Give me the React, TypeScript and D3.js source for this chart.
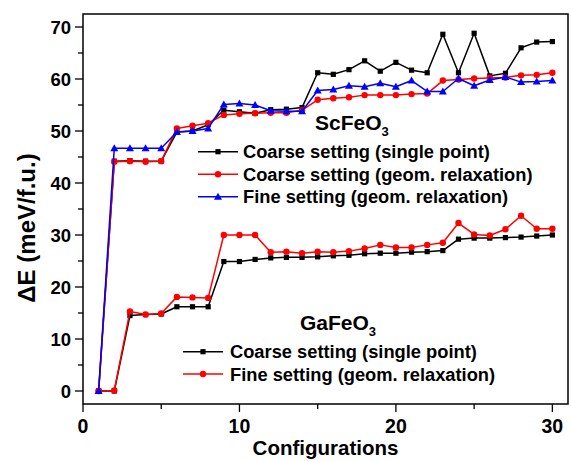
import React from "react";
import * as d3 from "d3";

// Configuration index 1..30
const configs: number[] = d3.range(1, 31);

// ScFeO3 energies (meV/f.u.)
const scCoarseSingle: number[] = [
  0, 44.2, 44.3, 44.2, 44.2, 49.8, 50.0, 51.2, 54.0, 53.7,
  53.4, 54.1, 54.2, 54.5, 61.2, 60.9, 61.8, 63.5, 61.5, 63.2,
  61.7, 61.2, 68.6, 61.2, 68.8, 60.6, 61.1, 66.0, 67.1, 67.2,
];
const scCoarseRelax: number[] = [
  0, 44.1, 44.2, 44.1, 44.2, 50.5, 51.0, 51.5, 53.1, 53.3,
  53.4, 53.5, 53.5, 54.0, 56.0, 56.3, 56.5, 56.9, 56.9, 56.9,
  57.1, 57.2, 59.7, 59.9, 60.1, 60.2, 60.3, 60.7, 60.8, 61.2,
];
const scFineRelax: number[] = [
  0, 46.7, 46.7, 46.7, 46.7, 49.8, 50.0, 50.5, 55.1, 55.3,
  55.0, 53.9, 53.8, 53.8, 57.8, 58.0, 58.7, 58.5, 59.2, 58.5,
  59.7, 57.6, 57.6, 60.1, 58.7, 59.8, 60.4, 59.4, 59.5, 59.7,
];

// GaFeO3 energies (meV/f.u.)
const gaCoarseSingle: number[] = [
  0, 0, 14.5, 14.7, 14.8, 16.2, 16.2, 16.2, 24.9, 24.9,
  25.3, 25.6, 25.7, 25.7, 25.8, 26.0, 26.1, 26.4, 26.5, 26.5,
  26.7, 26.8, 27.0, 29.2, 29.4, 29.4, 29.5, 29.6, 29.8, 30.0,
];
const gaFineRelax: number[] = [
  0, 0.1, 15.3, 14.7, 14.9, 18.1, 18.0, 17.9, 30.0, 30.0,
  30.0, 26.7, 26.8, 26.5, 26.8, 26.7, 26.9, 27.4, 28.1, 27.6,
  27.6, 28.1, 28.5, 32.3, 30.1, 29.9, 31.1, 33.7, 31.2, 31.2,
];

const xTicks: number[] = [0, 10, 20, 30];
const xMinorTicks: number[] = [5, 15, 25];
const yTicks: number[] = [0, 10, 20, 30, 40, 50, 60, 70];
const yMinorTicks: number[] = [5, 15, 25, 35, 45, 55, 65];

const scLegend: string[] = [
  "Coarse setting (single point)",
  "Coarse setting (geom. relaxation)",
  "Fine setting (geom. relaxation)",
];
const gaLegend: string[] = [
  "Coarse setting (single point)",
  "Fine setting (geom. relaxation)",
];

type Marker = "square" | "circle" | "triangle";

const W = 571;
const H = 461;
const left = 83;
const right = 568;
const top = 14;
const bottom = 404;
const FONT = "Arial, 'Liberation Sans', sans-serif";

const x = d3.scaleLinear().domain([0, 31]).range([left, right]);
const y = d3.scaleLinear().domain([-2.5, 72.5]).range([bottom, top]);

const line = d3
  .line<number>()
  .x((_, i) => x(configs[i]))
  .y((d) => y(d));

function MarkerShape({ type, cx, cy, color }: { type: Marker; cx: number; cy: number; color: string }) {
  if (type === "square") {
    return <rect x={cx - 2.6} y={cy - 2.6} width={5.2} height={5.2} fill={color} />;
  }
  if (type === "circle") {
    return <circle cx={cx} cy={cy} r={3.2} fill={color} />;
  }
  const s = 4;
  return (
    <path
      d={`M${cx},${cy - s} L${cx + s},${cy + s * 0.75} L${cx - s},${cy + s * 0.75} Z`}
      fill={color}
    />
  );
}

function Series({ values, color, marker }: { values: number[]; color: string; marker: Marker }) {
  return (
    <g>
      <path d={line(values) ?? ""} fill="none" stroke={color} strokeWidth={1.5} strokeLinejoin="round" />
      {values.map((v, i) => (
        <MarkerShape key={i} type={marker} cx={x(configs[i])} cy={y(v)} color={color} />
      ))}
    </g>
  );
}

function LegendRow({
  x0, x1, textX, yRow, color, marker, label,
}: {
  x0: number; x1: number; textX: number; yRow: number; color: string; marker: Marker; label: string;
}) {
  return (
    <g>
      <line x1={x0} x2={x1} y1={yRow} y2={yRow} stroke={color} strokeWidth={1.5} />
      <MarkerShape type={marker} cx={(x0 + x1) / 2} cy={yRow} color={color} />
      <text x={textX} y={yRow + 6.5} fontSize={18.3} fontWeight="bold" fill="#000">
        {label}
      </text>
    </g>
  );
}

export default function App() {
  const scColors = ["#000000", "#ff0000", "#0000ff"];
  const scMarkers: Marker[] = ["square", "circle", "triangle"];
  const gaColors = ["#000000", "#ff0000"];
  const gaMarkers: Marker[] = ["square", "circle"];

  return (
    <svg
      width={W}
      height={H}
      style={{ position: "absolute", left: 0, top: 0, background: "#fff" }}
      fontFamily={FONT}
    >
      <rect x={0} y={0} width={W} height={H} fill="#fff" />

      {/* data */}
      <Series values={gaCoarseSingle} color="#000000" marker="square" />
      <Series values={gaFineRelax} color="#ff0000" marker="circle" />
      <Series values={scCoarseSingle} color="#000000" marker="square" />
      <Series values={scCoarseRelax} color="#ff0000" marker="circle" />
      <Series values={scFineRelax} color="#0000ff" marker="triangle" />

      {/* frame */}
      <rect x={left} y={top} width={right - left} height={bottom - top} fill="none" stroke="#000" strokeWidth={1.5} />

      {/* y axis ticks */}
      {yTicks.map((t) => (
        <g key={`y${t}`}>
          <line x1={left - 8} x2={left} y1={y(t)} y2={y(t)} stroke="#000" strokeWidth={1.3} />
          <text x={left - 12} y={y(t) + 6.5} textAnchor="end" fontSize={18.5} fontWeight="bold">
            {t}
          </text>
        </g>
      ))}
      {yMinorTicks.map((t) => (
        <line key={`ym${t}`} x1={left - 5} x2={left} y1={y(t)} y2={y(t)} stroke="#000" strokeWidth={1.3} />
      ))}

      {/* x axis ticks */}
      {xTicks.map((t) => (
        <g key={`x${t}`}>
          <line x1={x(t)} x2={x(t)} y1={bottom} y2={bottom + 8} stroke="#000" strokeWidth={1.3} />
          <text x={x(t)} y={bottom + 29} textAnchor="middle" fontSize={19.5} fontWeight="bold">
            {t}
          </text>
        </g>
      ))}
      {xMinorTicks.map((t) => (
        <line key={`xm${t}`} x1={x(t)} x2={x(t)} y1={bottom} y2={bottom + 5} stroke="#000" strokeWidth={1.3} />
      ))}

      {/* axis titles */}
      <text x={(left + right) / 2} y={455} textAnchor="middle" fontSize={20.5} fontWeight="bold">
        Configurations
      </text>
      <text
        transform={`translate(35, 228) rotate(-90)`}
        textAnchor="middle"
        fontSize={24}
        fontWeight="bold"
      >
        ΔE (meV/f.u.)
      </text>

      {/* ScFeO3 legend */}
      <text x={315} y={130} fontSize={21} fontWeight="bold">
        ScFeO<tspan fontSize={13} dy={6}>3</tspan>
      </text>
      {scLegend.map((lab, i) => (
        <LegendRow
          key={`sl${i}`}
          x0={198}
          x1={238}
          textX={243}
          yRow={151.7 + i * 22.5}
          color={scColors[i]}
          marker={scMarkers[i]}
          label={lab}
        />
      ))}

      {/* GaFeO3 legend */}
      <text x={300} y={330} fontSize={21} fontWeight="bold">
        GaFeO<tspan fontSize={13} dy={6}>3</tspan>
      </text>
      {gaLegend.map((lab, i) => (
        <LegendRow
          key={`gl${i}`}
          x0={183}
          x1={223}
          textX={230}
          yRow={351.7 + i * 22.3}
          color={gaColors[i]}
          marker={gaMarkers[i]}
          label={lab}
        />
      ))}
    </svg>
  );
}
